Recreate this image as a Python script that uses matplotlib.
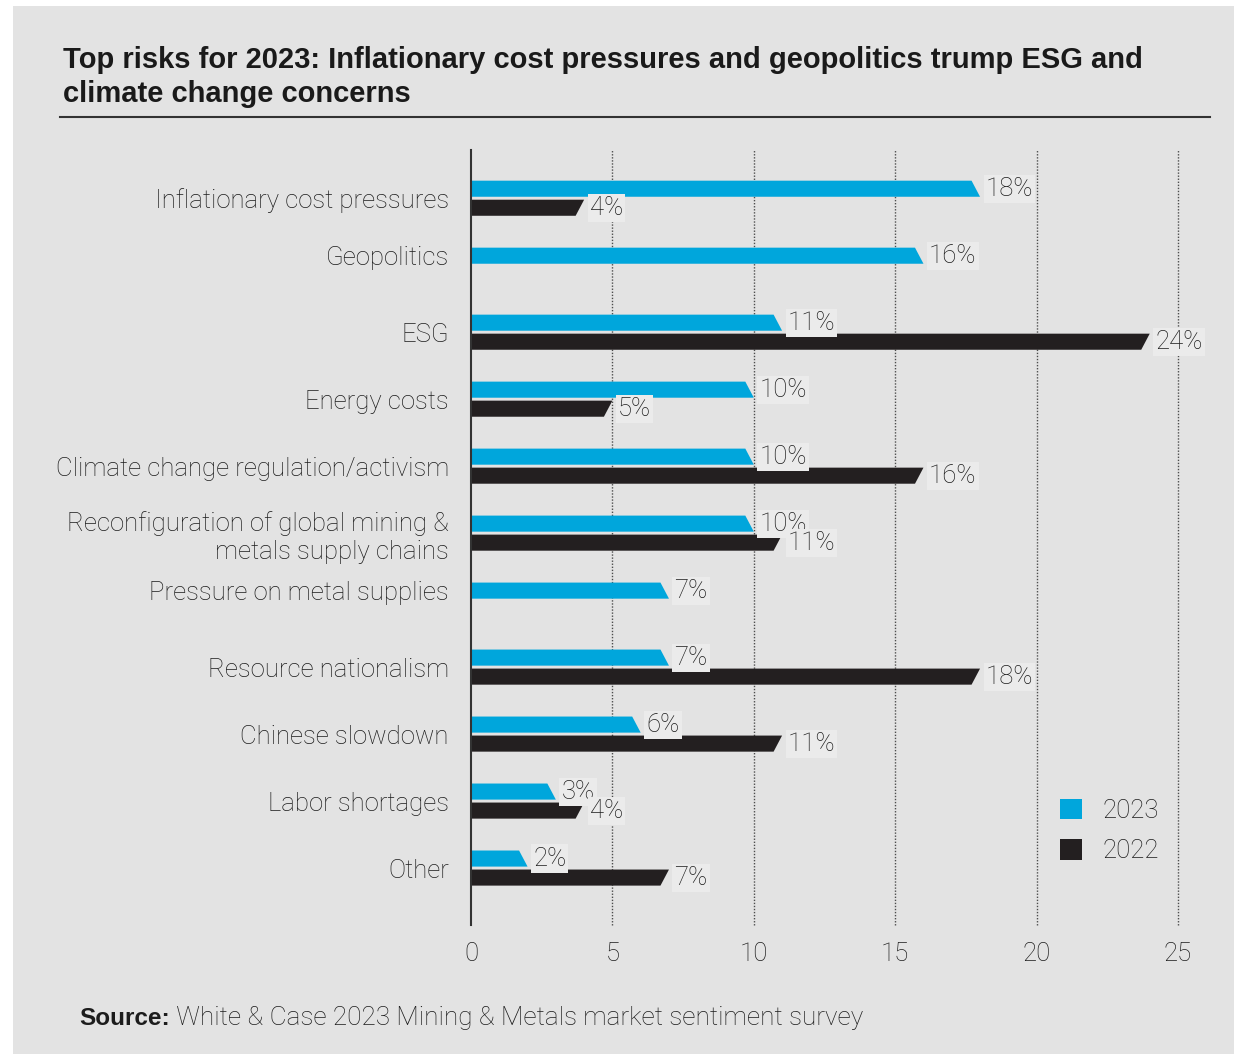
import matplotlib
matplotlib.use('Agg')
import matplotlib.pyplot as plt
from matplotlib.patches import Polygon, Patch, Rectangle
from matplotlib.lines import Line2D

# survey results, share of respondents (%)
categories = ['Inflationary cost pressures', 'Geopolitics', 'ESG', 'Energy costs',
              'Climate change regulation/activism',
              'Reconfiguration of global mining &\nmetals supply chains',
              'Pressure on metal supplies', 'Resource nationalism',
              'Chinese slowdown', 'Labor shortages', 'Other']
risk_2023 = [18, 16, 11, 10, 10, 10, 7, 7, 6, 3, 2]
risk_2022 = [4, None, 24, 5, 16, 11, None, 18, 11, 4, 7]
xticks = [0, 5, 10, 15, 20, 25]

cyan = '#00a6dc'
black = '#231f20'
bg = '#e3e3e3'
txt = '#1c1c1c'
body_font = 'Roboto'
body_weight = 'light'
body_size = 18.5

fig = plt.figure(figsize=(12.34, 10.54), dpi=100)
fig.patch.set_facecolor('white')
fig.add_artist(Rectangle((13/1234, 0), 1, 1 - 6/1054, transform=fig.transFigure,
                         facecolor=bg, edgecolor='none', zorder=0))

ax = fig.add_axes([471/1234, 129/1054, (1178-471)/1234, (925-150)/1054])
ax.set_facecolor('none')
ax.set_xlim(0, 25)
ax.set_ylim(10.85, -0.72)

h = 0.24
off = 0.142
slant = 0.3


def slanted_bar(y, val, color, down):
    # right end is cut on a diagonal; cyan leans one way, black the other
    top, bot = y - h/2, y + h/2
    if down:
        pts = [(0, top), (val - slant, top), (val, bot), (0, bot)]
    else:
        pts = [(0, top), (val, top), (val - slant, bot), (0, bot)]
    ax.add_patch(Polygon(pts, closed=True, facecolor=color, edgecolor='none', zorder=3))


def value_label(y, val):
    ax.annotate('{}%'.format(val), xy=(val, y), xytext=(4, 0), textcoords='offset points',
                ha='left', va='center', fontsize=body_size, color=txt, family=body_font,
                fontweight=body_weight, zorder=4,
                bbox=dict(boxstyle='square,pad=0.08', facecolor='#ebebeb', edgecolor='none'))


tick_pos = []
for i, (a, b) in enumerate(zip(risk_2023, risk_2022)):
    if b is None:
        slanted_bar(i - off, a, cyan, True)
        value_label(i - off, a)
        tick_pos.append(i - off)
    else:
        slanted_bar(i - off, a, cyan, True)
        slanted_bar(i + off, b, black, False)
        value_label(i - off, a)
        value_label(i + off, b)
        tick_pos.append(i)

ax.set_yticks(tick_pos)
ax.set_yticklabels(categories, fontsize=body_size, color=txt, family=body_font,
                   fontweight=body_weight)
ax.set_xticks(xticks)
ax.set_xticklabels([str(t) for t in xticks], fontsize=body_size, color=txt, family=body_font,
                   fontweight=body_weight)
ax.tick_params(axis='y', length=0, pad=16)
ax.tick_params(axis='x', length=0, pad=12)
for t in ax.get_yticklabels():
    t.set_ha('right')
    t.set_multialignment('right')

for s in ['top', 'right', 'bottom']:
    ax.spines[s].set_visible(False)
ax.spines['left'].set_color('#333333')
ax.spines['left'].set_linewidth(1.5)
ax.spines['left'].set_zorder(5)
for t in xticks[1:]:
    ax.axvline(t, color='#4d4d4d', lw=1.0, ls=(0, (1, 1.2)), zorder=1, clip_on=False)

handles = [Patch(facecolor=cyan, edgecolor='none'), Patch(facecolor=black, edgecolor='none')]
leg = fig.legend(handles, ['2023', '2022'], loc='center left',
                 bbox_to_anchor=(1037/1234, 1 - 831/1054), frameon=False,
                 handlelength=0.85, handleheight=0.85, handletextpad=0.8,
                 labelspacing=0.65, prop={'family': body_font, 'size': body_size,
                                          'weight': body_weight})
for t in leg.get_texts():
    t.set_color(txt)

fig.text(63/1234, 1 - 46/1054,
         'Top risks for 2023: Inflationary cost pressures and geopolitics trump ESG and\n'
         'climate change concerns',
         fontsize=21, fontweight='bold', family='Liberation Sans', color='#1a1a1a',
         va='top', ha='left', linespacing=1.25)
fig.add_artist(Line2D([60/1234, 1210/1234], [1 - 117/1054] * 2, transform=fig.transFigure,
                      color='#333333', lw=1.5))

src = fig.text(79/1234, 1 - 1030/1054, 'Source:', fontsize=17.5, fontweight='bold',
               family='Liberation Sans', color=txt, va='bottom', ha='left')
plt.annotate(' White & Case 2023 Mining & Metals market sentiment survey', xy=(1, 0),
             xycoords=src, va='bottom', ha='left', fontsize=18.8, family=body_font,
             fontweight=body_weight, color=txt, annotation_clip=False)

fig.savefig('out.png', dpi=100, facecolor=fig.get_facecolor())
